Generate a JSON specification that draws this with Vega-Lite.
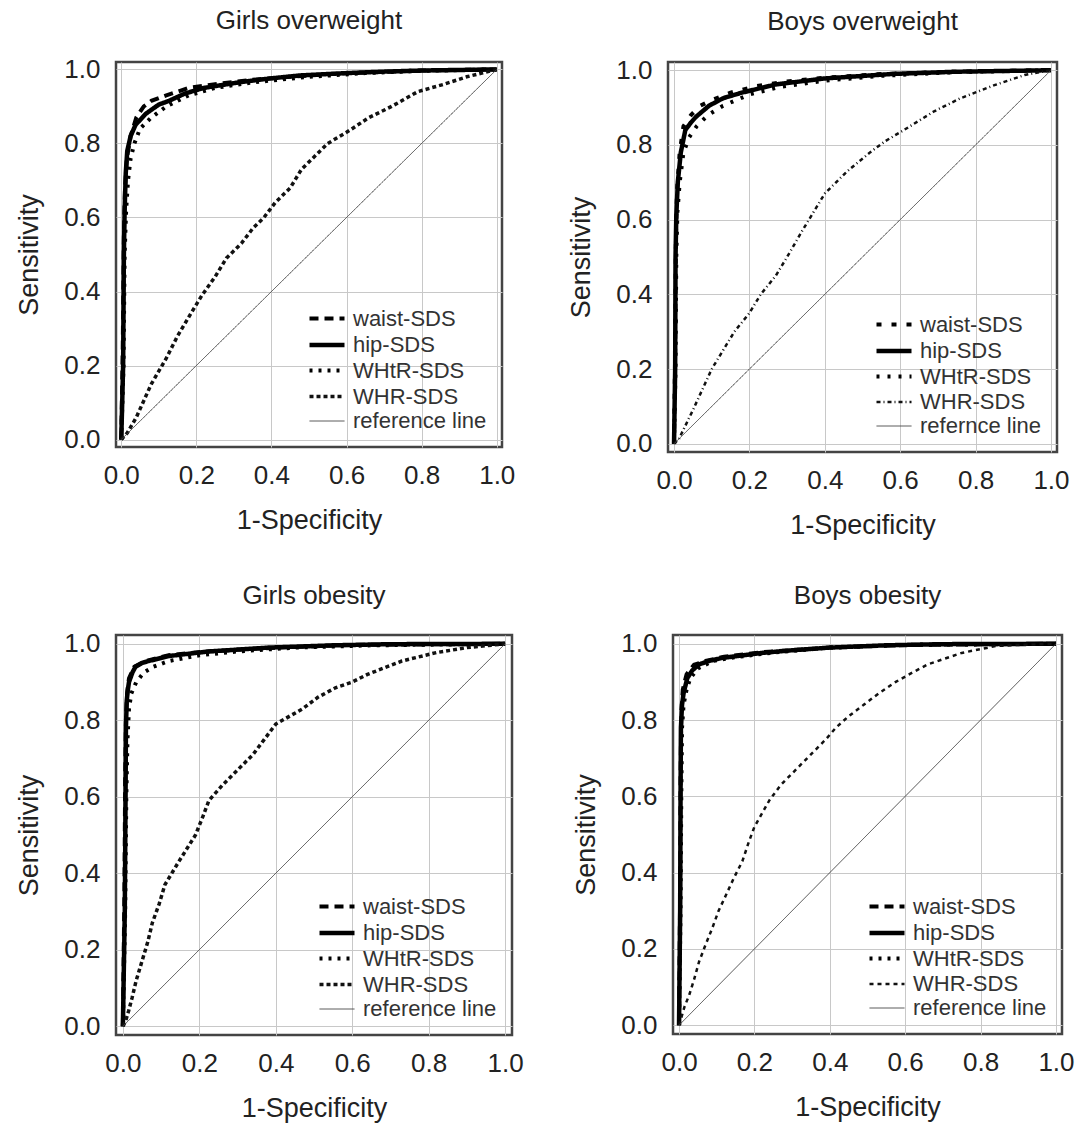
{
"$schema": "https://vega.github.io/schema/vega-lite/v6.json",
"padding": {"left": 14, "top": 7, "right": 2, "bottom": 2},
"background": "white",
"config": {
 "font": "Liberation Sans",
 "view": {"stroke": "#444", "strokeWidth": 2.5},
 "title": {"fontSize": 26, "fontWeight": "normal", "color": "#222", "offset": 22, "font": "Liberation Sans"},
 "axis": {"labelFont": "Liberation Sans", "labelFontSize": 26, "labelColor": "#222", "titleFont": "Liberation Sans", "titleFontSize": 27, "titleFontWeight": "normal", "titleColor": "#222", "ticks": false, "tickSize": 0, "domain": false, "gridColor": "#c8c8c8", "gridWidth": 1, "format": ".1f", "labelFlush": false},
 "axisX": {"labelPadding": 15, "titlePadding": 19},
 "axisY": {"labelPadding": 16, "titlePadding": 20},
 "legend": {"orient": "bottom-right", "offset": 15, "title": null, "symbolType": "M-1.4,0H1.4", "symbolSize": 625, "labelFontSize": 22, "labelColor": "#333", "labelFont": "Liberation Sans", "labelOffset": 11, "rowPadding": 0, "padding": 0}
},
"datasets": {
 "go": [
  {"s":"hip-SDS","x":0,"y":0},{"s":"hip-SDS","x":0.005,"y":0.2},{"s":"hip-SDS","x":0.007,"y":0.5},{"s":"hip-SDS","x":0.009,"y":0.62},{"s":"hip-SDS","x":0.012,"y":0.72},{"s":"hip-SDS","x":0.016,"y":0.78},{"s":"hip-SDS","x":0.025,"y":0.82},{"s":"hip-SDS","x":0.038,"y":0.85},{"s":"hip-SDS","x":0.065,"y":0.88},{"s":"hip-SDS","x":0.1,"y":0.905},{"s":"hip-SDS","x":0.127,"y":0.915},{"s":"hip-SDS","x":0.17,"y":0.935},{"s":"hip-SDS","x":0.22,"y":0.95},{"s":"hip-SDS","x":0.32,"y":0.966},{"s":"hip-SDS","x":0.4,"y":0.976},{"s":"hip-SDS","x":0.48,"y":0.984},{"s":"hip-SDS","x":0.6,"y":0.99},{"s":"hip-SDS","x":0.7,"y":0.994},{"s":"hip-SDS","x":0.8,"y":0.997},{"s":"hip-SDS","x":1,"y":1},
  {"s":"waist-SDS","x":0,"y":0},{"s":"waist-SDS","x":0.004,"y":0.25},{"s":"waist-SDS","x":0.007,"y":0.55},{"s":"waist-SDS","x":0.01,"y":0.68},{"s":"waist-SDS","x":0.015,"y":0.76},{"s":"waist-SDS","x":0.025,"y":0.82},{"s":"waist-SDS","x":0.04,"y":0.87},{"s":"waist-SDS","x":0.06,"y":0.9},{"s":"waist-SDS","x":0.08,"y":0.915},{"s":"waist-SDS","x":0.12,"y":0.93},{"s":"waist-SDS","x":0.18,"y":0.95},{"s":"waist-SDS","x":0.25,"y":0.96},{"s":"waist-SDS","x":0.35,"y":0.972},{"s":"waist-SDS","x":0.45,"y":0.98},{"s":"waist-SDS","x":0.6,"y":0.99},{"s":"waist-SDS","x":0.8,"y":0.997},{"s":"waist-SDS","x":1,"y":1},
  {"s":"WHtR-SDS","x":0,"y":0},{"s":"WHtR-SDS","x":0.006,"y":0.2},{"s":"WHtR-SDS","x":0.009,"y":0.5},{"s":"WHtR-SDS","x":0.013,"y":0.62},{"s":"WHtR-SDS","x":0.018,"y":0.7},{"s":"WHtR-SDS","x":0.025,"y":0.76},{"s":"WHtR-SDS","x":0.035,"y":0.8},{"s":"WHtR-SDS","x":0.05,"y":0.84},{"s":"WHtR-SDS","x":0.08,"y":0.87},{"s":"WHtR-SDS","x":0.12,"y":0.9},{"s":"WHtR-SDS","x":0.18,"y":0.93},{"s":"WHtR-SDS","x":0.25,"y":0.95},{"s":"WHtR-SDS","x":0.35,"y":0.965},{"s":"WHtR-SDS","x":0.5,"y":0.98},{"s":"WHtR-SDS","x":0.65,"y":0.99},{"s":"WHtR-SDS","x":0.8,"y":0.996},{"s":"WHtR-SDS","x":1,"y":1},
  {"s":"WHR-SDS","x":0,"y":0},{"s":"WHR-SDS","x":0.016,"y":0.018},{"s":"WHR-SDS","x":0.04,"y":0.06},{"s":"WHR-SDS","x":0.08,"y":0.15},{"s":"WHR-SDS","x":0.12,"y":0.22},{"s":"WHR-SDS","x":0.15,"y":0.28},{"s":"WHR-SDS","x":0.185,"y":0.34},{"s":"WHR-SDS","x":0.215,"y":0.39},{"s":"WHR-SDS","x":0.25,"y":0.44},{"s":"WHR-SDS","x":0.28,"y":0.49},{"s":"WHR-SDS","x":0.32,"y":0.53},{"s":"WHR-SDS","x":0.35,"y":0.57},{"s":"WHR-SDS","x":0.38,"y":0.6},{"s":"WHR-SDS","x":0.41,"y":0.64},{"s":"WHR-SDS","x":0.45,"y":0.68},{"s":"WHR-SDS","x":0.48,"y":0.73},{"s":"WHR-SDS","x":0.52,"y":0.77},{"s":"WHR-SDS","x":0.55,"y":0.8},{"s":"WHR-SDS","x":0.6,"y":0.83},{"s":"WHR-SDS","x":0.66,"y":0.87},{"s":"WHR-SDS","x":0.72,"y":0.9},{"s":"WHR-SDS","x":0.79,"y":0.94},{"s":"WHR-SDS","x":0.86,"y":0.96},{"s":"WHR-SDS","x":0.92,"y":0.98},{"s":"WHR-SDS","x":0.96,"y":0.99},{"s":"WHR-SDS","x":1,"y":1},
  {"s":"reference line","x":0,"y":0},{"s":"reference line","x":1,"y":1}
 ],
 "bo": [
  {"s":"hip-SDS","x":0,"y":0},{"s":"hip-SDS","x":0.003,"y":0.2},{"s":"hip-SDS","x":0.004,"y":0.5},{"s":"hip-SDS","x":0.006,"y":0.61},{"s":"hip-SDS","x":0.01,"y":0.7},{"s":"hip-SDS","x":0.018,"y":0.78},{"s":"hip-SDS","x":0.03,"y":0.84},{"s":"hip-SDS","x":0.045,"y":0.86},{"s":"hip-SDS","x":0.058,"y":0.875},{"s":"hip-SDS","x":0.093,"y":0.905},{"s":"hip-SDS","x":0.13,"y":0.925},{"s":"hip-SDS","x":0.18,"y":0.94},{"s":"hip-SDS","x":0.27,"y":0.962},{"s":"hip-SDS","x":0.4,"y":0.978},{"s":"hip-SDS","x":0.58,"y":0.99},{"s":"hip-SDS","x":0.75,"y":0.996},{"s":"hip-SDS","x":1,"y":1},
  {"s":"waist-SDS","x":0,"y":0},{"s":"waist-SDS","x":0.003,"y":0.25},{"s":"waist-SDS","x":0.005,"y":0.55},{"s":"waist-SDS","x":0.008,"y":0.68},{"s":"waist-SDS","x":0.015,"y":0.78},{"s":"waist-SDS","x":0.025,"y":0.85},{"s":"waist-SDS","x":0.045,"y":0.88},{"s":"waist-SDS","x":0.07,"y":0.905},{"s":"waist-SDS","x":0.1,"y":0.92},{"s":"waist-SDS","x":0.15,"y":0.94},{"s":"waist-SDS","x":0.22,"y":0.958},{"s":"waist-SDS","x":0.3,"y":0.97},{"s":"waist-SDS","x":0.4,"y":0.98},{"s":"waist-SDS","x":0.55,"y":0.99},{"s":"waist-SDS","x":0.75,"y":0.996},{"s":"waist-SDS","x":1,"y":1},
  {"s":"WHtR-SDS","x":0,"y":0},{"s":"WHtR-SDS","x":0.004,"y":0.2},{"s":"WHtR-SDS","x":0.006,"y":0.5},{"s":"WHtR-SDS","x":0.009,"y":0.62},{"s":"WHtR-SDS","x":0.015,"y":0.7},{"s":"WHtR-SDS","x":0.025,"y":0.78},{"s":"WHtR-SDS","x":0.04,"y":0.82},{"s":"WHtR-SDS","x":0.06,"y":0.85},{"s":"WHtR-SDS","x":0.09,"y":0.88},{"s":"WHtR-SDS","x":0.13,"y":0.905},{"s":"WHtR-SDS","x":0.2,"y":0.935},{"s":"WHtR-SDS","x":0.28,"y":0.955},{"s":"WHtR-SDS","x":0.4,"y":0.972},{"s":"WHtR-SDS","x":0.55,"y":0.985},{"s":"WHtR-SDS","x":0.75,"y":0.995},{"s":"WHtR-SDS","x":1,"y":1},
  {"s":"WHR-SDS","x":0,"y":0},{"s":"WHR-SDS","x":0.013,"y":0.013},{"s":"WHR-SDS","x":0.05,"y":0.09},{"s":"WHR-SDS","x":0.1,"y":0.2},{"s":"WHR-SDS","x":0.13,"y":0.25},{"s":"WHR-SDS","x":0.16,"y":0.3},{"s":"WHR-SDS","x":0.2,"y":0.35},{"s":"WHR-SDS","x":0.23,"y":0.4},{"s":"WHR-SDS","x":0.27,"y":0.45},{"s":"WHR-SDS","x":0.3,"y":0.5},{"s":"WHR-SDS","x":0.34,"y":0.57},{"s":"WHR-SDS","x":0.4,"y":0.67},{"s":"WHR-SDS","x":0.46,"y":0.73},{"s":"WHR-SDS","x":0.52,"y":0.78},{"s":"WHR-SDS","x":0.56,"y":0.81},{"s":"WHR-SDS","x":0.61,"y":0.84},{"s":"WHR-SDS","x":0.69,"y":0.89},{"s":"WHR-SDS","x":0.76,"y":0.925},{"s":"WHR-SDS","x":0.85,"y":0.96},{"s":"WHR-SDS","x":0.93,"y":0.987},{"s":"WHR-SDS","x":0.97,"y":0.995},{"s":"WHR-SDS","x":1,"y":1},
  {"s":"refernce line","x":0,"y":0},{"s":"refernce line","x":1,"y":1}
 ],
 "gob": [
  {"s":"hip-SDS","x":0,"y":0},{"s":"hip-SDS","x":0.005,"y":0.3},{"s":"hip-SDS","x":0.007,"y":0.6},{"s":"hip-SDS","x":0.008,"y":0.78},{"s":"hip-SDS","x":0.01,"y":0.85},{"s":"hip-SDS","x":0.013,"y":0.88},{"s":"hip-SDS","x":0.016,"y":0.9},{"s":"hip-SDS","x":0.025,"y":0.925},{"s":"hip-SDS","x":0.033,"y":0.94},{"s":"hip-SDS","x":0.05,"y":0.95},{"s":"hip-SDS","x":0.068,"y":0.955},{"s":"hip-SDS","x":0.12,"y":0.968},{"s":"hip-SDS","x":0.225,"y":0.98},{"s":"hip-SDS","x":0.38,"y":0.99},{"s":"hip-SDS","x":0.55,"y":0.996},{"s":"hip-SDS","x":0.7,"y":0.999},{"s":"hip-SDS","x":1,"y":1},
  {"s":"waist-SDS","x":0,"y":0},{"s":"waist-SDS","x":0.004,"y":0.35},{"s":"waist-SDS","x":0.006,"y":0.65},{"s":"waist-SDS","x":0.008,"y":0.8},{"s":"waist-SDS","x":0.011,"y":0.87},{"s":"waist-SDS","x":0.016,"y":0.91},{"s":"waist-SDS","x":0.03,"y":0.94},{"s":"waist-SDS","x":0.06,"y":0.955},{"s":"waist-SDS","x":0.12,"y":0.97},{"s":"waist-SDS","x":0.22,"y":0.98},{"s":"waist-SDS","x":0.4,"y":0.99},{"s":"waist-SDS","x":0.6,"y":0.997},{"s":"waist-SDS","x":1,"y":1},
  {"s":"WHtR-SDS","x":0,"y":0},{"s":"WHtR-SDS","x":0.006,"y":0.3},{"s":"WHtR-SDS","x":0.009,"y":0.6},{"s":"WHtR-SDS","x":0.012,"y":0.75},{"s":"WHtR-SDS","x":0.016,"y":0.83},{"s":"WHtR-SDS","x":0.022,"y":0.87},{"s":"WHtR-SDS","x":0.035,"y":0.9},{"s":"WHtR-SDS","x":0.055,"y":0.925},{"s":"WHtR-SDS","x":0.08,"y":0.94},{"s":"WHtR-SDS","x":0.12,"y":0.955},{"s":"WHtR-SDS","x":0.2,"y":0.97},{"s":"WHtR-SDS","x":0.3,"y":0.98},{"s":"WHtR-SDS","x":0.45,"y":0.99},{"s":"WHtR-SDS","x":0.65,"y":0.996},{"s":"WHtR-SDS","x":1,"y":1},
  {"s":"WHR-SDS","x":0,"y":0},{"s":"WHR-SDS","x":0.007,"y":0.013},{"s":"WHR-SDS","x":0.015,"y":0.04},{"s":"WHR-SDS","x":0.024,"y":0.074},{"s":"WHR-SDS","x":0.035,"y":0.12},{"s":"WHR-SDS","x":0.05,"y":0.17},{"s":"WHR-SDS","x":0.065,"y":0.22},{"s":"WHR-SDS","x":0.077,"y":0.27},{"s":"WHR-SDS","x":0.095,"y":0.32},{"s":"WHR-SDS","x":0.11,"y":0.37},{"s":"WHR-SDS","x":0.146,"y":0.43},{"s":"WHR-SDS","x":0.19,"y":0.5},{"s":"WHR-SDS","x":0.21,"y":0.55},{"s":"WHR-SDS","x":0.225,"y":0.59},{"s":"WHR-SDS","x":0.26,"y":0.63},{"s":"WHR-SDS","x":0.29,"y":0.66},{"s":"WHR-SDS","x":0.34,"y":0.71},{"s":"WHR-SDS","x":0.37,"y":0.75},{"s":"WHR-SDS","x":0.4,"y":0.79},{"s":"WHR-SDS","x":0.47,"y":0.83},{"s":"WHR-SDS","x":0.51,"y":0.86},{"s":"WHR-SDS","x":0.556,"y":0.885},{"s":"WHR-SDS","x":0.6,"y":0.9},{"s":"WHR-SDS","x":0.64,"y":0.92},{"s":"WHR-SDS","x":0.73,"y":0.955},{"s":"WHR-SDS","x":0.82,"y":0.977},{"s":"WHR-SDS","x":0.9,"y":0.99},{"s":"WHR-SDS","x":0.95,"y":0.995},{"s":"WHR-SDS","x":1,"y":1},
  {"s":"reference line","x":0,"y":0},{"s":"reference line","x":1,"y":1}
 ],
 "bob": [
  {"s":"hip-SDS","x":0,"y":0},{"s":"hip-SDS","x":0.003,"y":0.3},{"s":"hip-SDS","x":0.004,"y":0.6},{"s":"hip-SDS","x":0.005,"y":0.78},{"s":"hip-SDS","x":0.008,"y":0.84},{"s":"hip-SDS","x":0.012,"y":0.87},{"s":"hip-SDS","x":0.022,"y":0.91},{"s":"hip-SDS","x":0.035,"y":0.93},{"s":"hip-SDS","x":0.053,"y":0.946},{"s":"hip-SDS","x":0.08,"y":0.955},{"s":"hip-SDS","x":0.115,"y":0.963},{"s":"hip-SDS","x":0.22,"y":0.976},{"s":"hip-SDS","x":0.3,"y":0.983},{"s":"hip-SDS","x":0.4,"y":0.99},{"s":"hip-SDS","x":0.55,"y":0.996},{"s":"hip-SDS","x":0.7,"y":0.999},{"s":"hip-SDS","x":1,"y":1},
  {"s":"waist-SDS","x":0,"y":0},{"s":"waist-SDS","x":0.003,"y":0.35},{"s":"waist-SDS","x":0.004,"y":0.65},{"s":"waist-SDS","x":0.006,"y":0.82},{"s":"waist-SDS","x":0.01,"y":0.88},{"s":"waist-SDS","x":0.02,"y":0.92},{"s":"waist-SDS","x":0.04,"y":0.945},{"s":"waist-SDS","x":0.07,"y":0.955},{"s":"waist-SDS","x":0.12,"y":0.966},{"s":"waist-SDS","x":0.22,"y":0.978},{"s":"waist-SDS","x":0.4,"y":0.99},{"s":"waist-SDS","x":0.6,"y":0.997},{"s":"waist-SDS","x":1,"y":1},
  {"s":"WHtR-SDS","x":0,"y":0},{"s":"WHtR-SDS","x":0.004,"y":0.3},{"s":"WHtR-SDS","x":0.006,"y":0.6},{"s":"WHtR-SDS","x":0.008,"y":0.78},{"s":"WHtR-SDS","x":0.012,"y":0.84},{"s":"WHtR-SDS","x":0.02,"y":0.88},{"s":"WHtR-SDS","x":0.03,"y":0.91},{"s":"WHtR-SDS","x":0.05,"y":0.935},{"s":"WHtR-SDS","x":0.09,"y":0.955},{"s":"WHtR-SDS","x":0.15,"y":0.965},{"s":"WHtR-SDS","x":0.25,"y":0.977},{"s":"WHtR-SDS","x":0.4,"y":0.99},{"s":"WHtR-SDS","x":0.6,"y":0.997},{"s":"WHtR-SDS","x":1,"y":1},
  {"s":"WHR-SDS","x":0,"y":0},{"s":"WHR-SDS","x":0.004,"y":0.013},{"s":"WHR-SDS","x":0.015,"y":0.05},{"s":"WHR-SDS","x":0.027,"y":0.079},{"s":"WHR-SDS","x":0.04,"y":0.12},{"s":"WHR-SDS","x":0.053,"y":0.166},{"s":"WHR-SDS","x":0.07,"y":0.21},{"s":"WHR-SDS","x":0.088,"y":0.254},{"s":"WHR-SDS","x":0.105,"y":0.3},{"s":"WHR-SDS","x":0.124,"y":0.34},{"s":"WHR-SDS","x":0.145,"y":0.385},{"s":"WHR-SDS","x":0.168,"y":0.43},{"s":"WHR-SDS","x":0.185,"y":0.48},{"s":"WHR-SDS","x":0.2,"y":0.52},{"s":"WHR-SDS","x":0.24,"y":0.59},{"s":"WHR-SDS","x":0.27,"y":0.63},{"s":"WHR-SDS","x":0.31,"y":0.67},{"s":"WHR-SDS","x":0.36,"y":0.72},{"s":"WHR-SDS","x":0.39,"y":0.75},{"s":"WHR-SDS","x":0.416,"y":0.78},{"s":"WHR-SDS","x":0.45,"y":0.81},{"s":"WHR-SDS","x":0.49,"y":0.84},{"s":"WHR-SDS","x":0.53,"y":0.87},{"s":"WHR-SDS","x":0.575,"y":0.9},{"s":"WHR-SDS","x":0.62,"y":0.925},{"s":"WHR-SDS","x":0.66,"y":0.946},{"s":"WHR-SDS","x":0.75,"y":0.976},{"s":"WHR-SDS","x":0.84,"y":0.994},{"s":"WHR-SDS","x":0.9,"y":0.997},{"s":"WHR-SDS","x":1,"y":1},
  {"s":"reference line","x":0,"y":0},{"s":"reference line","x":1,"y":1}
 ]
},
"resolve": {"scale": {"strokeDash": "independent", "strokeWidth": "independent", "color": "independent"}, "legend": {"strokeDash": "independent", "strokeWidth": "independent", "color": "independent"}},
"vconcat": [
 {"resolve": {"scale": {"strokeDash": "independent", "strokeWidth": "independent", "color": "independent"}, "legend": {"strokeDash": "independent", "strokeWidth": "independent", "color": "independent"}},
  "hconcat": [
  {"title": "Girls overweight", "width": 386, "height": 385, "data": {"name": "go"}, "mark": {"type": "line"},
   "encoding": {
    "x": {"field": "x", "type": "quantitative", "title": "1-Specificity", "scale": {"domain": [-0.014, 1.014], "nice": false, "zero": false}, "axis": {"values": [0, 0.2, 0.4, 0.6, 0.8, 1]}},
    "y": {"field": "y", "type": "quantitative", "title": "Sensitivity", "scale": {"domain": [-0.02, 1.02], "nice": false, "zero": false}, "axis": {"values": [0, 0.2, 0.4, 0.6, 0.8, 1]}},
    "strokeDash": {"field": "s", "type": "nominal", "scale": {"domain": ["waist-SDS", "hip-SDS", "WHtR-SDS", "WHR-SDS", "reference line"], "range": [[9, 6], [1, 0], [3, 6], [4, 3], [1, 0]]}},
    "strokeWidth": {"field": "s", "type": "nominal", "scale": {"type": "ordinal", "domain": ["waist-SDS", "hip-SDS", "WHtR-SDS", "WHR-SDS", "reference line"], "range": [4, 4.5, 4, 3.5, 1]}},
    "color": {"field": "s", "type": "nominal", "scale": {"domain": ["waist-SDS", "hip-SDS", "WHtR-SDS", "WHR-SDS", "reference line"], "range": ["#000", "#000", "#000", "#111", "#444"]}}
   }},
  {"title": "Boys overweight", "width": 389, "height": 390, "data": {"name": "bo"}, "mark": {"type": "line"},
   "encoding": {
    "x": {"field": "x", "type": "quantitative", "title": "1-Specificity", "scale": {"domain": [-0.016, 1.016], "nice": false, "zero": false}, "axis": {"values": [0, 0.2, 0.4, 0.6, 0.8, 1]}},
    "y": {"field": "y", "type": "quantitative", "title": "Sensitivity", "scale": {"domain": [-0.022, 1.022], "nice": false, "zero": false}, "axis": {"values": [0, 0.2, 0.4, 0.6, 0.8, 1]}},
    "strokeDash": {"field": "s", "type": "nominal", "scale": {"domain": ["waist-SDS", "hip-SDS", "WHtR-SDS", "WHR-SDS", "refernce line"], "range": [[5, 10], [1, 0], [3, 8], [4, 3, 1, 3], [1, 0]]}},
    "strokeWidth": {"field": "s", "type": "nominal", "scale": {"type": "ordinal", "domain": ["waist-SDS", "hip-SDS", "WHtR-SDS", "WHR-SDS", "refernce line"], "range": [4, 4.5, 4, 2.5, 1]}},
    "color": {"field": "s", "type": "nominal", "scale": {"domain": ["waist-SDS", "hip-SDS", "WHtR-SDS", "WHR-SDS", "refernce line"], "range": ["#000", "#000", "#000", "#111", "#444"]}}
   }}
 ], "spacing": 49},
 {"resolve": {"scale": {"strokeDash": "independent", "strokeWidth": "independent", "color": "independent"}, "legend": {"strokeDash": "independent", "strokeWidth": "independent", "color": "independent"}},
  "hconcat": [
  {"title": "Girls obesity", "width": 396, "height": 400, "data": {"name": "gob"}, "mark": {"type": "line"},
   "encoding": {
    "x": {"field": "x", "type": "quantitative", "title": "1-Specificity", "scale": {"domain": [-0.018, 1.018], "nice": false, "zero": false}, "axis": {"values": [0, 0.2, 0.4, 0.6, 0.8, 1]}},
    "y": {"field": "y", "type": "quantitative", "title": "Sensitivity", "scale": {"domain": [-0.023, 1.023], "nice": false, "zero": false}, "axis": {"values": [0, 0.2, 0.4, 0.6, 0.8, 1]}},
    "strokeDash": {"field": "s", "type": "nominal", "scale": {"domain": ["waist-SDS", "hip-SDS", "WHtR-SDS", "WHR-SDS", "reference line"], "range": [[9, 6], [1, 0], [3, 6], [4, 3], [1, 0]]}},
    "strokeWidth": {"field": "s", "type": "nominal", "scale": {"type": "ordinal", "domain": ["waist-SDS", "hip-SDS", "WHtR-SDS", "WHR-SDS", "reference line"], "range": [4, 4.5, 4, 3.5, 1]}},
    "color": {"field": "s", "type": "nominal", "scale": {"domain": ["waist-SDS", "hip-SDS", "WHtR-SDS", "WHR-SDS", "reference line"], "range": ["#000", "#000", "#000", "#111", "#444"]}}
   }},
  {"title": "Boys obesity", "width": 389, "height": 399, "data": {"name": "bob"}, "mark": {"type": "line"},
   "encoding": {
    "x": {"field": "x", "type": "quantitative", "title": "1-Specificity", "scale": {"domain": [-0.016, 1.016], "nice": false, "zero": false}, "axis": {"values": [0, 0.2, 0.4, 0.6, 0.8, 1]}},
    "y": {"field": "y", "type": "quantitative", "title": "Sensitivity", "scale": {"domain": [-0.023, 1.023], "nice": false, "zero": false}, "axis": {"values": [0, 0.2, 0.4, 0.6, 0.8, 1]}},
    "strokeDash": {"field": "s", "type": "nominal", "scale": {"domain": ["waist-SDS", "hip-SDS", "WHtR-SDS", "WHR-SDS", "reference line"], "range": [[9, 6], [1, 0], [3, 6], [4, 4], [1, 0]]}},
    "strokeWidth": {"field": "s", "type": "nominal", "scale": {"type": "ordinal", "domain": ["waist-SDS", "hip-SDS", "WHtR-SDS", "WHR-SDS", "reference line"], "range": [4, 4.5, 4, 2.5, 1]}},
    "color": {"field": "s", "type": "nominal", "scale": {"domain": ["waist-SDS", "hip-SDS", "WHtR-SDS", "WHR-SDS", "reference line"], "range": ["#000", "#000", "#000", "#111", "#444"]}}
   }}
 ], "spacing": 46}
],
"spacing": 41
}
